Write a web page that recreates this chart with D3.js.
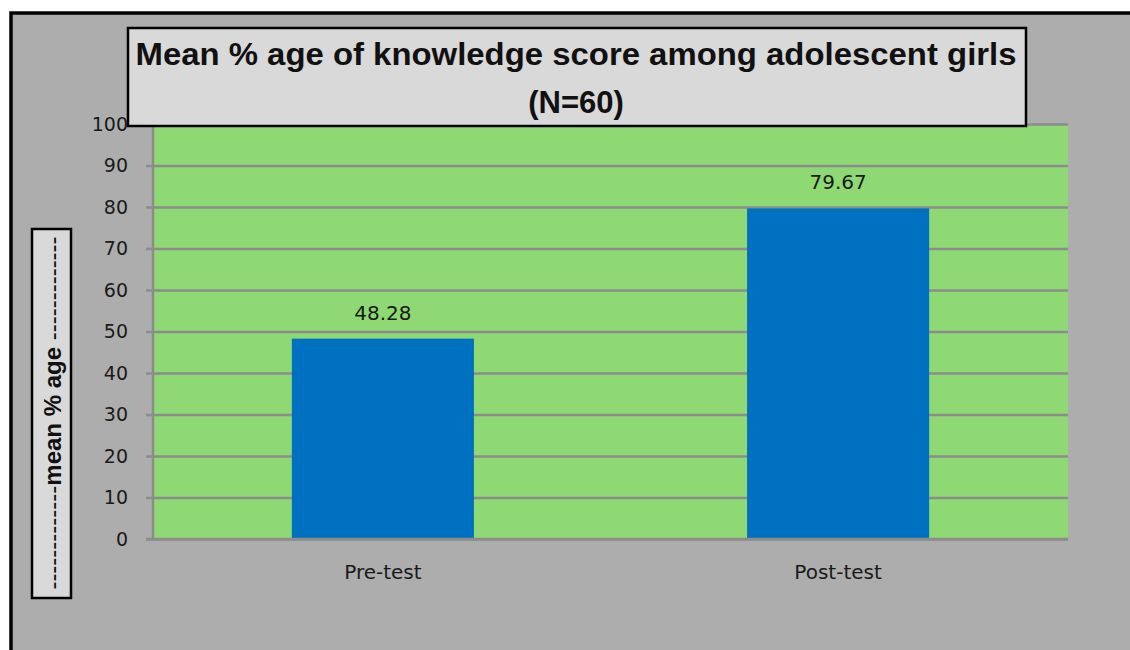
<!DOCTYPE html>
<html>
<head>
<meta charset="utf-8">
<script src="https://cdn.jsdelivr.net/npm/d3@7"></script>
<style>
body { margin: 0; background: #fff; }
svg { display: block; font-family: "DejaVu Sans", sans-serif; }
</style>
</head>
<body>
<svg width="1130" height="650"></svg>
<script>
// data
var categories = ["Pre-test", "Post-test"];
var values = [48.28, 79.67];
var yTicks = [0, 10, 20, 30, 40, 50, 60, 70, 80, 90, 100];
var titleLines = ["Mean % age of knowledge score among adolescent girls", "(N=60)"];
var yTitle = "mean % age";

var svg = d3.select("svg");

// outer panel
svg.append("rect")
    .attr("x", 11).attr("y", 13)
    .attr("width", 1140).attr("height", 660)
    .attr("fill", "#adadad")
    .attr("stroke", "#000")
    .attr("stroke-width", 3.5);

var plot = {left: 153, right: 1068, top: 124, bottom: 539};

var xScale = d3.scaleBand()
    .domain(categories)
    .range([plot.left, plot.right])
    .paddingInner(0.6)
    .paddingOuter(0.305);

var yScale = d3.scaleLinear()
    .domain([0, 100])
    .range([plot.bottom, plot.top]);

// plot background
svg.append("rect")
    .attr("x", plot.left).attr("y", plot.top)
    .attr("width", plot.right - plot.left)
    .attr("height", plot.bottom - plot.top)
    .attr("fill", "#8fd974");

// gridlines + ticks
var yAxis = d3.axisLeft(yScale)
    .tickValues(yTicks)
    .tickSize(-(plot.right - plot.left + 7))
    .tickFormat(d3.format("d"));

var gy = svg.append("g")
    .attr("transform", "translate(" + (plot.left - 7) + ",0)")
    .call(yAxis);
gy.select(".domain").remove();
gy.selectAll(".tick line")
    .attr("x1", 0)
    .attr("stroke", "#8c8c8c")
    .attr("stroke-width", 2.5);
gy.selectAll(".tick text")
    .attr("x", -18)
    .attr("font-size", 19)
    .attr("font-family", "DejaVu Sans, sans-serif")
    .attr("fill", "#1a1a1a");

// vertical axis line
svg.append("line")
    .attr("x1", plot.left).attr("x2", plot.left)
    .attr("y1", plot.top).attr("y2", plot.bottom)
    .attr("stroke", "#8c8c8c")
    .attr("stroke-width", 2.5);

// bars
svg.selectAll("rect.bar")
    .data(values)
    .enter()
    .append("rect")
    .attr("class", "bar")
    .attr("x", function(d, i) { return xScale(categories[i]); })
    .attr("y", function(d) { return yScale(d); })
    .attr("width", xScale.bandwidth())
    .attr("height", function(d) { return yScale(0) - yScale(d); })
    .attr("fill", "#0070c0");

// bottom axis line over bars
svg.append("line")
    .attr("x1", plot.left - 7).attr("x2", plot.right)
    .attr("y1", plot.bottom).attr("y2", plot.bottom)
    .attr("stroke", "#8c8c8c")
    .attr("stroke-width", 2.5);

// value labels
svg.selectAll("text.val")
    .data(values)
    .enter()
    .append("text")
    .attr("class", "val")
    .attr("x", function(d, i) { return xScale(categories[i]) + xScale.bandwidth() / 2; })
    .attr("y", function(d) { return yScale(d) - 19; })
    .attr("text-anchor", "middle")
    .attr("font-size", 20)
    .attr("fill", "#1a1a1a")
    .text(function(d) { return d.toFixed(2); });

// category labels
svg.selectAll("text.cat")
    .data(categories)
    .enter()
    .append("text")
    .attr("class", "cat")
    .attr("x", function(d) { return xScale(d) + xScale.bandwidth() / 2; })
    .attr("y", 579)
    .attr("text-anchor", "middle")
    .attr("font-size", 20)
    .attr("fill", "#1a1a1a")
    .text(function(d) { return d; });

// title box
svg.append("rect")
    .attr("x", 128).attr("y", 28)
    .attr("width", 898).attr("height", 98)
    .attr("fill", "#d9d9d9")
    .attr("stroke", "#000")
    .attr("stroke-width", 2.5);

svg.selectAll("text.title")
    .data(titleLines)
    .enter()
    .append("text")
    .attr("class", "title")
    .attr("x", 576)
    .attr("y", function(d, i) { return 65 + i * 48; })
    .attr("text-anchor", "middle")
    .attr("font-family", "Liberation Sans, Arial, sans-serif")
    .attr("font-size", 31)
    .attr("font-weight", "bold")
    .attr("fill", "#111")
    .attr("textLength", function(d, i) { return i === 0 ? 881 : null; })
    .attr("lengthAdjust", "spacingAndGlyphs")
    .text(function(d) { return d; });

// y title box
svg.append("rect")
    .attr("x", 32).attr("y", 229)
    .attr("width", 39).attr("height", 369)
    .attr("fill", "#d9d9d9")
    .attr("stroke", "#000")
    .attr("stroke-width", 2.5);

var yt = svg.append("text")
    .attr("transform", "translate(61,413) rotate(-90)")
    .attr("text-anchor", "middle")
    .attr("font-family", "Liberation Sans, Arial, sans-serif")
    .attr("font-size", 24)
    .attr("fill", "#111");
yt.append("tspan").text("-------------");
yt.append("tspan").attr("font-weight", "bold").text(yTitle + " ");
yt.append("tspan").text("-------------");
</script>
</body>
</html>
